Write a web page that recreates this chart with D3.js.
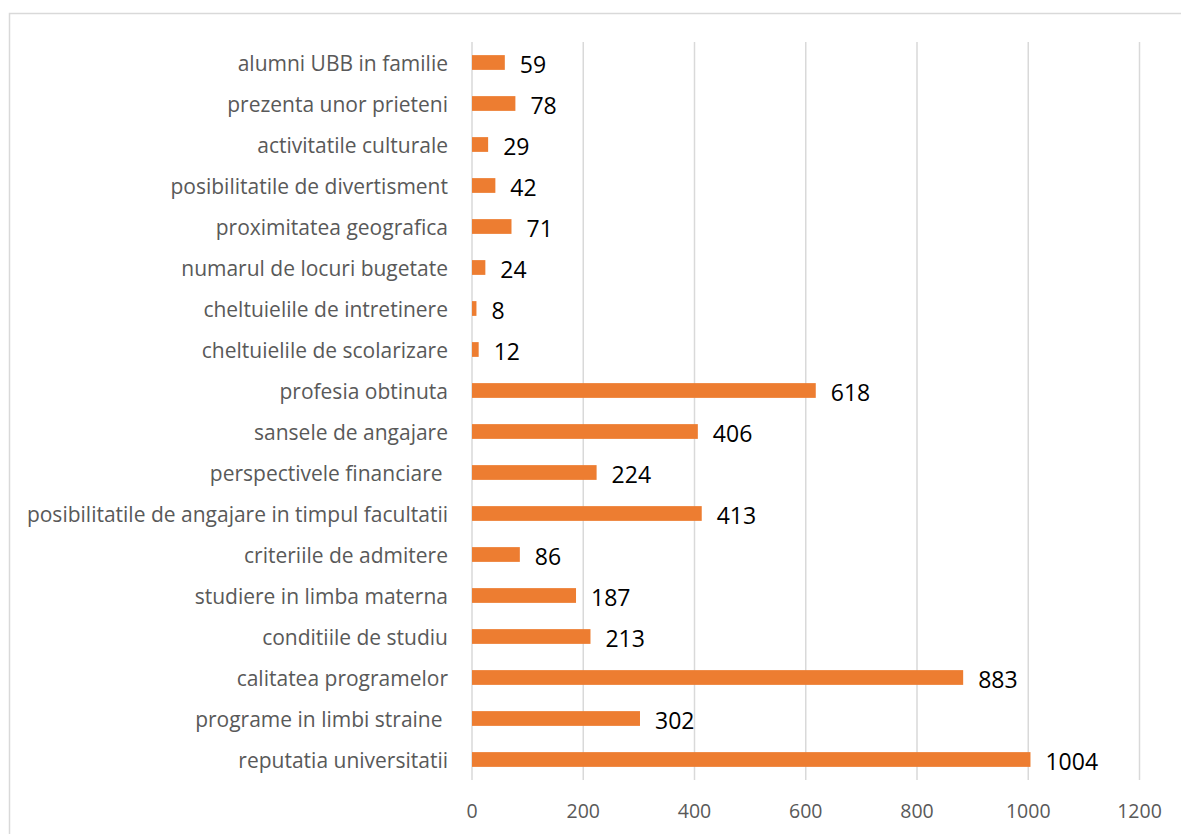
<!DOCTYPE html>
<html>
<head>
<meta charset="utf-8">
<script src="https://cdn.jsdelivr.net/npm/d3@7"></script>
<style>
  body { margin: 0; background: #fff; }
  text { white-space: pre; }
</style>
</head>
<body>
<svg id="chart" width="1181" height="834"></svg>
<script>
// categories, top to bottom as in the picture
const categories = [
    "alumni UBB in familie",
    "prezenta unor prieteni",
    "activitatile culturale",
    "posibilitatile de divertisment",
    "proximitatea geografica",
    "numarul de locuri bugetate",
    "cheltuielile de intretinere",
    "cheltuielile de scolarizare",
    "profesia obtinuta",
    "sansele de angajare",
    "perspectivele financiare ",
    "posibilitatile de angajare in timpul facultatii",
    "criteriile de admitere",
    "studiere in limba materna",
    "conditiile de studiu",
    "calitatea programelor",
    "programe in limbi straine ",
    "reputatia universitatii"
]
const values = [59, 78, 29, 42, 71, 24, 8, 12, 618, 406, 224, 413, 86, 187, 213, 883, 302, 1004]
const xTicks = [0, 200, 400, 600, 800, 1000, 1200]

const data = categories.map((c, i) => ({ name: c, value: values[i] }))

const svg = d3.select("#chart")
const font = "'Open Sans', 'Noto Sans', sans-serif"

// outer chart frame (only top and left edge visible)
svg.append("rect")
    .attr("x", 9.5).attr("y", 13.5)
    .attr("width", 1200).attr("height", 900)
    .attr("fill", "none")
    .attr("stroke", "#d9d9d9")
    .attr("stroke-width", 1.5)

const plot = { left: 472, right: 1139.5, top: 42, bottom: 780 }

const x = d3.scaleLinear().domain([0, 1200]).range([plot.left, plot.right])
const y = d3.scaleBand().domain(categories).range([plot.top, plot.bottom]).paddingInner(0.64).paddingOuter(0.32)

// gridlines
svg.append("g").selectAll("line")
    .data(xTicks)
    .join("line")
    .attr("x1", d => x(d)).attr("x2", d => x(d))
    .attr("y1", plot.top).attr("y2", plot.bottom)
    .attr("stroke", "#d9d9d9")
    .attr("stroke-width", 1.5)

// x tick labels
svg.append("g").selectAll("text")
    .data(xTicks)
    .join("text")
    .attr("x", d => x(d))
    .attr("y", 818)
    .attr("text-anchor", "middle")
    .attr("font-family", font)
    .attr("font-size", 19.5)
    .attr("fill", "#595959")
    .text(d => d)

// bars
svg.append("g").selectAll("rect")
    .data(data)
    .join("rect")
    .attr("x", x(0))
    .attr("y", d => y(d.name))
    .attr("width", d => x(d.value) - x(0))
    .attr("height", y.bandwidth())
    .attr("fill", "#ed7d31")

// category labels
svg.append("g").selectAll("text")
    .data(data)
    .join("text")
    .attr("x", 448)
    .attr("y", d => y(d.name) + y.bandwidth() / 2)
    .attr("dy", "0.39em")
    .attr("text-anchor", "end")
    .attr("font-family", font)
    .attr("font-size", 21)
    .attr("fill", "#595959")
    .text(d => d.name)

// value labels
svg.append("g").selectAll("text")
    .data(data)
    .join("text")
    .attr("x", d => x(d.value) + 15)
    .attr("y", d => y(d.name) + y.bandwidth() / 2)
    .attr("dy", "0.45em")
    .attr("font-family", font)
    .attr("font-size", 23)
    .attr("fill", "#000")
    .text(d => d.value)
</script>
</body>
</html>
